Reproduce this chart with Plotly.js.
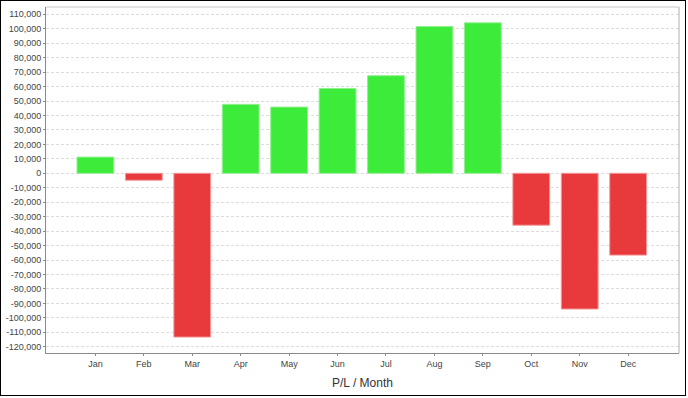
<!DOCTYPE html>
<html>
<head>
<meta charset="utf-8">
<script src="https://cdn.plot.ly/plotly-3.0.1.min.js"></script>
<style>
html,body{margin:0;padding:0;background:#fff;}
#wrap{position:relative;width:688px;height:398px;}
#chart{position:absolute;left:0;top:0;width:688px;height:398px;}
#frame{position:absolute;left:0;top:0;width:684px;height:394px;border:1px solid #000;pointer-events:none;}
</style>
</head>
<body>
<div id="wrap"><div id="chart"></div><div id="frame"></div></div>
<script>
const months = ["Jan","Feb","Mar","Apr","May","Jun","Jul","Aug","Sep","Oct","Nov","Dec"];
const pl = [11200, -4800, -113300, 47700, 45800, 58700, 67500, 101500, 104100, -35900, -93900, -56600];
const yTickVals = [110000,100000,90000,80000,70000,60000,50000,40000,30000,20000,10000,0,-10000,-20000,-30000,-40000,-50000,-60000,-70000,-80000,-90000,-100000,-110000,-120000];
const xTitle = "P/L / Month";

const yTickText = yTickVals.map(v => (v < 0 ? "-" : "") + Math.abs(v).toLocaleString("en-US"));
const fill = pl.map(v => v >= 0 ? "#3deb3b" : "#e8393c");
const edge = pl.map(v => v >= 0 ? "#8ff08d" : "#f29a9b");

const trace = {
  type: "bar",
  x: months,
  y: pl,
  width: 0.76,
  marker: {color: fill, line: {color: edge, width: 1}},
  hoverinfo: "x+y"
};

const layout = {
  width: 688, height: 398,
  margin: {l: 46, r: 9, t: 7, b: 45, pad: 0},
  paper_bgcolor: "#fff",
  plot_bgcolor: "#fff",
  showlegend: false,
  font: {family: "Liberation Sans, Arial, sans-serif", size: 9, color: "#444"},
  xaxis: {
    type: "category",
    range: [-1.02, 12.05],
    showgrid: false,
    zeroline: false,
    showline: true, linecolor: "#8a8a8a", linewidth: 1,
    ticks: "outside", ticklen: 2, tickcolor: "#8a8a8a",
    tickfont: {size: 9, color: "#444"},
    title: {text: xTitle, font: {size: 12, color: "#333"}, standoff: 10}
  },
  yaxis: {
    range: [-124320, 115050],
    tickvals: yTickVals,
    ticktext: yTickText,
    showgrid: true, gridcolor: "#dcdcdc", griddash: "3px,2px", gridwidth: 1,
    zeroline: false,
    showline: true, linecolor: "#8a8a8a", linewidth: 1,
    ticks: "outside", ticklen: 2, tickcolor: "#8a8a8a",
    tickfont: {size: 9, color: "#444"}
  },
  shapes: [
    {type: "line", xref: "paper", yref: "paper", x0: 0, x1: 1, y0: 1, y1: 1, line: {color: "#c8c8c8", width: 1}},
    {type: "line", xref: "paper", yref: "paper", x0: 1, x1: 1, y0: 0, y1: 1, line: {color: "#b0b0b0", width: 1}}
  ]
};

Plotly.newPlot("chart", [trace], layout, {displayModeBar: false, staticPlot: true});
</script>
</body>
</html>
